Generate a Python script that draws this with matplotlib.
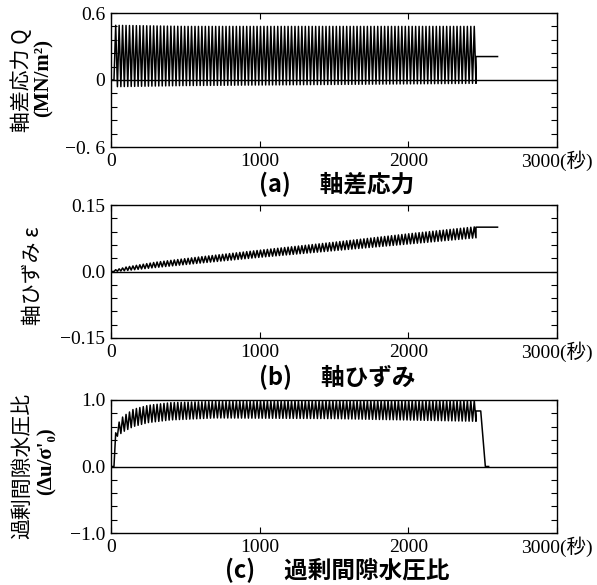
import numpy as np
import matplotlib
matplotlib.use("Agg")
from matplotlib import pyplot as plt
from matplotlib.ticker import MultipleLocator

plt.rcParams['font.family'] = ['Liberation Serif', 'Noto Sans CJK JP', 'DejaVu Serif']
plt.rcParams['axes.linewidth'] = 1.0

# 繰返し載荷の時間 (秒)
t_cyc_start = 20.0
t_cyc_end = 2455.0
n_cycles = 105

x_ticks = [0, 1000, 2000, 3000]
x_labels = ["0", "1000", "2000", "3000(秒)"]

# (a) 軸差応力 Q : ピーク値の読み取り
q_env_t = [20, 500, 1500, 2455]
q_upper = [0.49, 0.48, 0.48, 0.48]
q_lower = [-0.06, -0.05, -0.04, -0.03]
q_after_t = [2455, 2600]
q_after = [0.21, 0.21]

# (b) 軸ひずみ
eps_env_t = [20, 100, 300, 600, 1000, 1500, 2000, 2455]
eps_upper = [0.003, 0.01, 0.021, 0.033, 0.048, 0.066, 0.085, 0.101]
eps_lower = [0.0, 0.002, 0.009, 0.019, 0.032, 0.047, 0.062, 0.076]
eps_after_t = [2455, 2600]
eps_after = [0.1, 0.1]

# (c) 過剰間隙水圧比
u_env_t = [20, 40, 80, 150, 250, 400, 700, 1500, 2455]
u_upper = [0.35, 0.62, 0.75, 0.86, 0.92, 0.96, 0.98, 0.99, 0.99]
u_lower = [0.3, 0.45, 0.52, 0.6, 0.66, 0.7, 0.73, 0.72, 0.68]
u_after_t = [2455, 2487, 2518, 2540]
u_after = [0.835, 0.835, 0.0, 0.0]


def zigzag(env_t, upper, lower, after_t, after_v):
    # ピーク値を交互につないで波形にする
    tp = np.linspace(t_cyc_start, t_cyc_end, 2 * n_cycles + 1)
    up = np.interp(tp, env_t, upper)
    lo = np.interp(tp, env_t, lower)
    v = np.where(np.arange(tp.size) % 2 == 1, up, lo)
    v[0] = 0.0
    t = np.concatenate([[0.0], tp, after_t])
    y = np.concatenate([[0.0], v, after_v])
    return t, y


def setup(ax, ylim, yticks, ylabels, minor):
    ax.set_xlim(0, 3000)
    ax.set_ylim(*ylim)
    ax.set_xticks(x_ticks)
    ax.set_xticklabels(x_labels)
    ax.set_yticks(yticks)
    ax.set_yticklabels(ylabels)
    ax.yaxis.set_minor_locator(MultipleLocator(minor))
    ax.tick_params(which='both', direction='in', top=True, right=True,
                   length=4, width=0.8, labelsize=14)
    ax.tick_params(axis='y', pad=4)
    ax.tick_params(axis='x', pad=14)
    # 「秒」で位置がずれないようにベースライン揃え
    for lbl in ax.get_xticklabels():
        lbl.set_va('baseline')
    ax.axhline(0, color='k', lw=1.0)


fig = plt.figure(figsize=(5.97, 5.85), dpi=100)
W = 597.0
H = 585.0


def add_ax(top, bottom):
    return fig.add_axes([111 / W, 1 - bottom / H, (557 - 111) / W, (bottom - top) / H])


ax1 = add_ax(13, 147)
ax2 = add_ax(205, 338)
ax3 = add_ax(400, 533)

t, y = zigzag(q_env_t, q_upper, q_lower, q_after_t, q_after)
ax1.plot(t, y, color='k', lw=1.1)
setup(ax1, (-0.6, 0.6), [-0.6, 0, 0.6], ["\u22120. 6", "0", "0.6"], 0.12)

t, y = zigzag(eps_env_t, eps_upper, eps_lower, eps_after_t, eps_after)
ax2.plot(t, y, color='k', lw=1.1)
setup(ax2, (-0.15, 0.15), [-0.15, 0, 0.15], ["\u22120.15", "0.0", "0.15"], 0.03)

t, y = zigzag(u_env_t, u_upper, u_lower, u_after_t, u_after)
ax3.plot(t, y, color='k', lw=1.1)
setup(ax3, (-1.0, 1.0), [-1.0, 0, 1.0], ["\u22121.0", "0.0", "1.0"], 0.2)

# 縦軸ラベル
cjk = ['Noto Sans CJK JP', 'DejaVu Sans']
fig.text(22 / W, 1 - 80 / H, "軸差応力 Q", rotation=90, ha='center', va='center',
         fontsize=15, family=cjk)
fig.text(44 / W, 1 - 78 / H, "(MN/m²)", rotation=90, ha='center', va='center',
         fontsize=15, fontweight='bold')
fig.text(33 / W, 1 - 276 / H, "軸ひずみ ε", rotation=90, ha='center', va='center',
         fontsize=15, family=cjk)
fig.text(22 / W, 1 - 466 / H, "過剰間隙水圧比", rotation=90, ha='center', va='center',
         fontsize=15, family=cjk)
fig.text(47 / W, 1 - 461 / H, "(Δu/σ'₀)", rotation=90, ha='center', va='center',
         fontsize=15, fontweight='bold')

# 図タイトル (ベースライン位置で指定)
for ypix, s in [(192, "(a)\u3000 軸差応力"), (385, "(b)\u3000 軸ひずみ"),
                (578, "(c)\u3000 過剰間隙水圧比")]:
    fig.text(337 / W, 1 - ypix / H, s, ha='center', va='baseline', fontsize=17,
             family=cjk, fontweight='bold')

fig.savefig("out.png", dpi=100)
